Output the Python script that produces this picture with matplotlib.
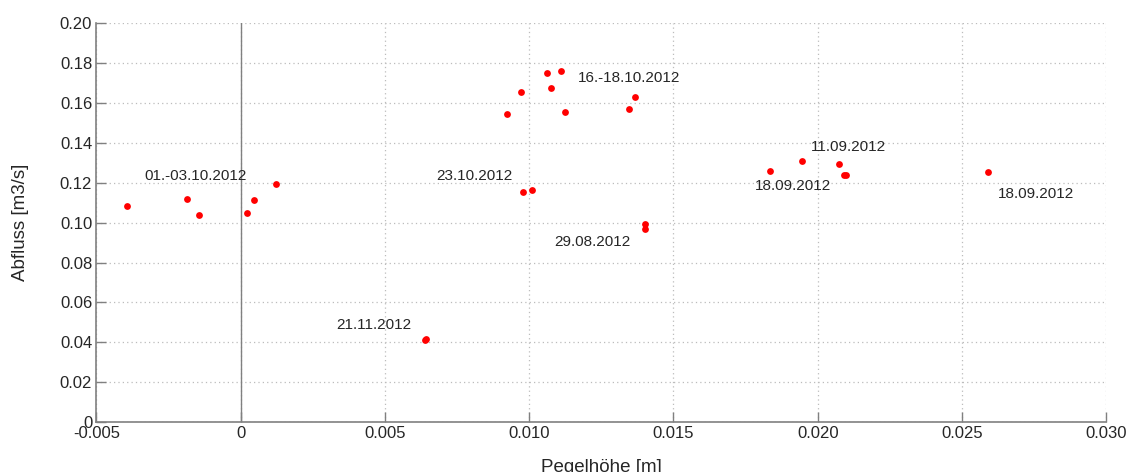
import matplotlib
matplotlib.use("Agg")
import matplotlib.pyplot as plt

# Data
pegel = [-0.00394, -0.00185, -0.00146, 0.00023, 0.00046, 0.00123,
         0.00924, 0.00971, 0.01061, 0.01109, 0.01076, 0.01124,
         0.01347, 0.01367, 0.00978, 0.01008, 0.01402, 0.01402,
         0.01834, 0.01945, 0.02072, 0.02090, 0.02097, 0.02590,
         0.00640, 0.00641]
abfluss = [0.1083, 0.1119, 0.1038, 0.1048, 0.1116, 0.1195,
           0.1546, 0.1653, 0.1750, 0.1760, 0.1675, 0.1553,
           0.1571, 0.1628, 0.1156, 0.1162, 0.0991, 0.0968,
           0.1260, 0.1310, 0.1296, 0.1240, 0.1240, 0.1253,
           0.0409, 0.0414]

label_texts = ["01.-03.10.2012", "21.11.2012", "23.10.2012", "16.-18.10.2012",
               "29.08.2012", "11.09.2012", "18.09.2012", "18.09.2012"]
label_x = [-0.00335, 0.00333, 0.00677, 0.0117, 0.01087, 0.01975, 0.01782, 0.02625]
label_y = [0.1233, 0.0486, 0.1236, 0.1727, 0.0901, 0.1378, 0.1182, 0.1144]

x_ticks = [-0.005, 0, 0.005, 0.010, 0.015, 0.020, 0.025, 0.030]
x_tick_labels = ["-0.005", "0", "0.005", "0.010", "0.015", "0.020", "0.025", "0.030"]
y_ticks = [0, 0.02, 0.04, 0.06, 0.08, 0.10, 0.12, 0.14, 0.16, 0.18, 0.20]
y_tick_labels = ["0", "0.02", "0.04", "0.06", "0.08", "0.10", "0.12", "0.14",
                 "0.16", "0.18", "0.20"]

plt.rcParams['font.family'] = ['Liberation Sans', 'DejaVu Sans']

fig = plt.figure(figsize=(11.31, 4.72), dpi=100)
ax = fig.add_axes([0.0852, 0.106, 0.8930, 0.8446])

ax.scatter(pegel, abfluss, s=24, color='#ff0000', zorder=3, linewidths=0)
ax.axvline(0, color='#808080', lw=1.0, zorder=2)

for t, x, y in zip(label_texts, label_x, label_y):
    ax.text(x, y, t, fontsize=11, ha='left', va='center', color='#262626')

ax.set_xlim(-0.005, 0.030)
ax.set_ylim(0, 0.20)
ax.set_xticks(x_ticks)
ax.set_xticklabels(x_tick_labels)
ax.set_yticks(y_ticks)
ax.set_yticklabels(y_tick_labels)

ax.grid(True, linestyle=(0, (1, 2.5)), color='#bcbcbc', lw=0.9)
ax.set_axisbelow(True)

for side in ['top', 'right']:
    ax.spines[side].set_visible(False)
for side in ['left', 'bottom']:
    ax.spines[side].set_color('#808080')
    ax.spines[side].set_linewidth(1.2)

ax.tick_params(direction='in', length=7, width=1.0, color='#808080',
               labelsize=12, labelcolor='#262626', pad=3)

ax.set_xlabel('Pegelhöhe [m]', fontsize=13.5, color='#262626', labelpad=13)
ax.set_ylabel('Abfluss [m3/s]', fontsize=13.5, color='#262626', labelpad=22)

fig.savefig('out.png', dpi=100)
